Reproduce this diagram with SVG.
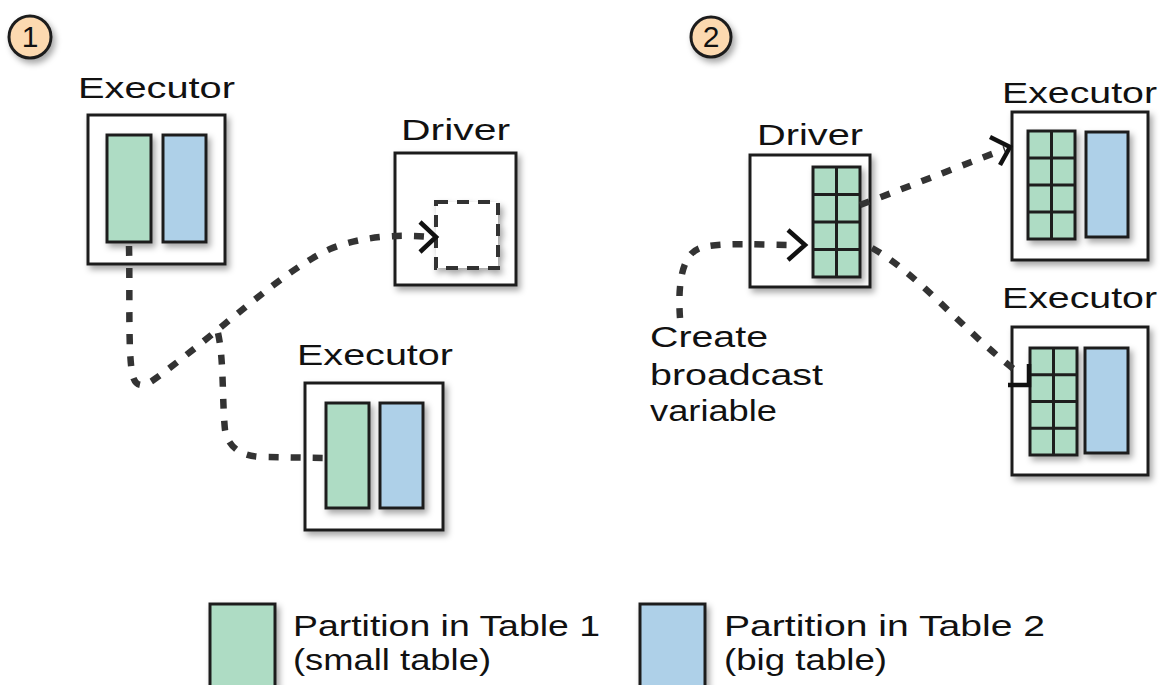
<svg xmlns="http://www.w3.org/2000/svg" width="1169" height="685" viewBox="0 0 1169 685">
<defs>
<filter id="sh" x="-20%" y="-20%" width="150%" height="150%">
<feDropShadow dx="3" dy="4" stdDeviation="3" flood-color="#000" flood-opacity="0.35"/>
</filter>
<style>
.box{fill:#fff;stroke:#1e1e1e;stroke-width:3;filter:url(#sh)}
.g{fill:#aedcc4;stroke:#1e1e1e;stroke-width:3;filter:url(#sh)}
.b{fill:#aed0e8;stroke:#1e1e1e;stroke-width:3;filter:url(#sh)}
.gl{stroke:#1e1e1e;stroke-width:3;fill:none}
.lbl{font-family:"Liberation Sans",Arial,sans-serif;font-size:30px;fill:#111}
.badge{fill:#fcd9b0;stroke:#1e1e1e;stroke-width:3;filter:url(#sh)}
.con{fill:none;stroke:#333;stroke-width:6.5;stroke-dasharray:10 12}
.ah{fill:none;stroke:#111;stroke-width:4.5;stroke-linejoin:miter}
</style>
</defs>
<rect width="1169" height="685" fill="#fff"/>

<g id="badge1"><circle class="badge" cx="30" cy="37" r="21"/><text class="lbl" x="30" y="47" text-anchor="middle" font-size="28">1</text></g>
<g id="badge2"><circle class="badge" cx="711" cy="37" r="20"/><text class="lbl" x="711" y="47" text-anchor="middle" font-size="28">2</text></g>

<g id="executor1a">
<text class="lbl" x="78" y="98" textLength="157" lengthAdjust="spacingAndGlyphs">Executor</text>
<rect class="box" x="88" y="115" width="137" height="149"/>
<rect class="g" x="107" y="135" width="44" height="107"/>
<rect class="b" x="163" y="135" width="43" height="107"/>
</g>

<g id="driver1">
<text class="lbl" x="401" y="140" textLength="109" lengthAdjust="spacingAndGlyphs">Driver</text>
<rect class="box" x="395" y="153" width="121" height="132"/>
<rect x="436" y="202" width="62" height="66" fill="#fff" stroke="#333" stroke-width="4" stroke-dasharray="12 9" filter="url(#sh)"/>
</g>

<g id="executor1b">
<text class="lbl" x="297" y="365" textLength="156" lengthAdjust="spacingAndGlyphs">Executor</text>
<rect class="box" x="305" y="383" width="138" height="147"/>
<rect class="g" x="326" y="403" width="43" height="105"/>
<rect class="b" x="380" y="403" width="43" height="105"/>
</g>

<g id="driver2">
<text class="lbl" x="757" y="145" textLength="106" lengthAdjust="spacingAndGlyphs">Driver</text>
<rect class="box" x="750" y="155" width="120" height="132"/>
<rect class="g" x="813" y="167" width="47" height="110"/>
<path class="gl" d="M836.5,167 V277 M813,194.5 H860 M813,222 H860 M813,249.5 H860"/>
</g>

<g id="executor2a">
<text class="lbl" x="1002" y="103" textLength="155" lengthAdjust="spacingAndGlyphs">Executor</text>
<rect class="box" x="1012" y="112" width="136" height="148"/>
<rect class="g" x="1028" y="131" width="47" height="108"/>
<path class="gl" d="M1051.5,131 V239 M1028,158 H1075 M1028,185 H1075 M1028,212 H1075"/>
<rect class="b" x="1086" y="132" width="42" height="105"/>
</g>

<g id="executor2b">
<text class="lbl" x="1002" y="308" textLength="155" lengthAdjust="spacingAndGlyphs">Executor</text>
<rect class="box" x="1012" y="327" width="136" height="148"/>
<rect class="g" x="1030" y="348" width="47" height="107"/>
<path class="gl" d="M1053.5,348 V455 M1030,374.75 H1077 M1030,401.5 H1077 M1030,428.25 H1077"/>
<rect class="b" x="1085" y="348" width="43" height="105"/>
</g>

<g id="note">
<text class="lbl" x="650" y="347" textLength="118" lengthAdjust="spacingAndGlyphs">Create</text>
<text class="lbl" x="650" y="385" textLength="173" lengthAdjust="spacingAndGlyphs">broadcast</text>
<text class="lbl" x="650" y="421" textLength="127" lengthAdjust="spacingAndGlyphs">variable</text>
</g>

<g id="legend">
<rect class="g" x="210" y="604" width="65" height="90"/>
<text class="lbl" x="293" y="636" textLength="307" lengthAdjust="spacingAndGlyphs">Partition in Table 1</text>
<text class="lbl" x="293" y="670" textLength="198" lengthAdjust="spacingAndGlyphs">(small table)</text>
<rect class="b" x="640" y="604" width="65" height="90"/>
<text class="lbl" x="724" y="636" textLength="321" lengthAdjust="spacingAndGlyphs">Partition in Table 2</text>
<text class="lbl" x="724" y="670" textLength="163" lengthAdjust="spacingAndGlyphs">(big table)</text>
</g>

<g id="connectors">
<path class="con" d="M129,246 C130,290 128,350 132,372 Q135,392 152,381 C220,332 280,272 330,249 C362,236 400,234 430,237"/>
<path class="con" d="M218,333 C224,360 222,400 225,430 Q230,456 262,457 L324,458"/>
<polyline class="ah" points="420,222 436,237 420,252"/>
<path class="con" d="M680,318 C678,290 680,255 700,248 C720,242 760,245 798,245"/>
<polyline class="ah" points="788,230 805,245 788,260"/>
<path class="con" d="M860,205 C900,190 950,170 1005,149"/>
<polyline class="ah" points="990,137 1010,147 1000,165"/>
<path class="con" d="M872,248 C920,275 962,330 1020,374"/>
<polyline class="ah" points="1008,385 1029,385 1029,364"/>
</g>
</svg>
